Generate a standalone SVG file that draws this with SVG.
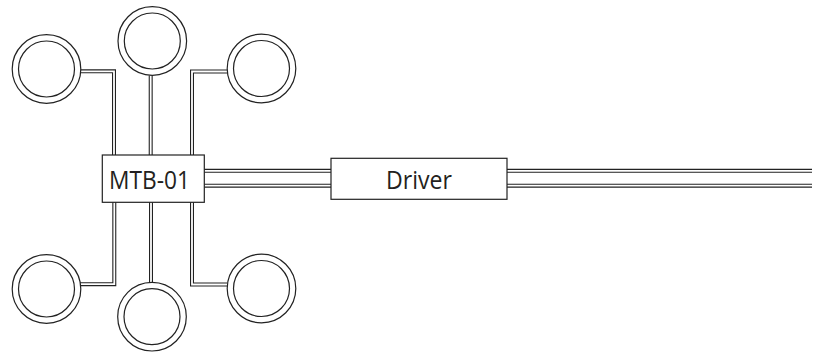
<svg xmlns="http://www.w3.org/2000/svg" width="819" height="352" viewBox="0 0 819 352">
<style>
.ring{fill:#fff;stroke:#222;stroke-width:1.2}
.box{fill:#fff;stroke:#222;stroke-width:1.2}
.co{fill:none;stroke:#222;stroke-width:4;stroke-linejoin:miter}
.ci{fill:none;stroke:#fff;stroke-width:1.8;stroke-linejoin:miter}
.lbl{font-family:"Open Sans","Noto Sans",sans-serif;font-size:25px;fill:#231f20}
</style>
<rect width="819" height="352" fill="#fff"/>
<g id="connectors">
<g class="co">
<path d="M80 71.3H114V155"/>
<path d="M150.7 75.5V155"/>
<path d="M227.5 71.5H192V155"/>
<path d="M80 284.2H114.3V202"/>
<path d="M151 282.6V202"/>
<path d="M227.5 284.5H192V202"/>
<path d="M204 170.8H331M204 185.7H331"/>
<path d="M507 170.8H812M507 185.7H812"/>
</g>
<g class="ci">
<path d="M80 71.3H114V155"/>
<path d="M150.7 75.5V155"/>
<path d="M227.5 71.5H192V155"/>
<path d="M80 284.2H114.3V202"/>
<path d="M151 282.6V202"/>
<path d="M227.5 284.5H192V202"/>
<path d="M204 170.8H331M204 185.7H331"/>
<path d="M507 170.8H812M507 185.7H812"/>
</g>
</g>
<g id="motor-top-left"><circle class="ring" cx="46.5" cy="69" r="34.3"/><circle class="ring" cx="46.5" cy="69" r="28"/></g>
<g id="motor-top-mid"><circle class="ring" cx="152.3" cy="41" r="34.3"/><circle class="ring" cx="152.3" cy="41" r="28"/></g>
<g id="motor-top-right"><circle class="ring" cx="261.5" cy="68.5" r="34.3"/><circle class="ring" cx="261.5" cy="68.5" r="28"/></g>
<g id="motor-bottom-left"><circle class="ring" cx="46.5" cy="289" r="34.3"/><circle class="ring" cx="46.5" cy="289" r="28"/></g>
<g id="motor-bottom-mid"><circle class="ring" cx="152" cy="316.7" r="34.3"/><circle class="ring" cx="152" cy="316.7" r="28"/></g>
<g id="motor-bottom-right"><circle class="ring" cx="261.5" cy="288.5" r="34.3"/><circle class="ring" cx="261.5" cy="288.5" r="28"/></g>
<g id="mtb-01"><rect class="box" x="102.3" y="155" width="102" height="47.3"/><text class="lbl" x="109" y="189.3" textLength="81" lengthAdjust="spacingAndGlyphs">MTB-01</text></g>
<g id="driver"><rect class="box" x="331" y="158.3" width="176" height="41"/><text class="lbl" x="386" y="189.3" textLength="66" lengthAdjust="spacingAndGlyphs">Driver</text></g>
</svg>
